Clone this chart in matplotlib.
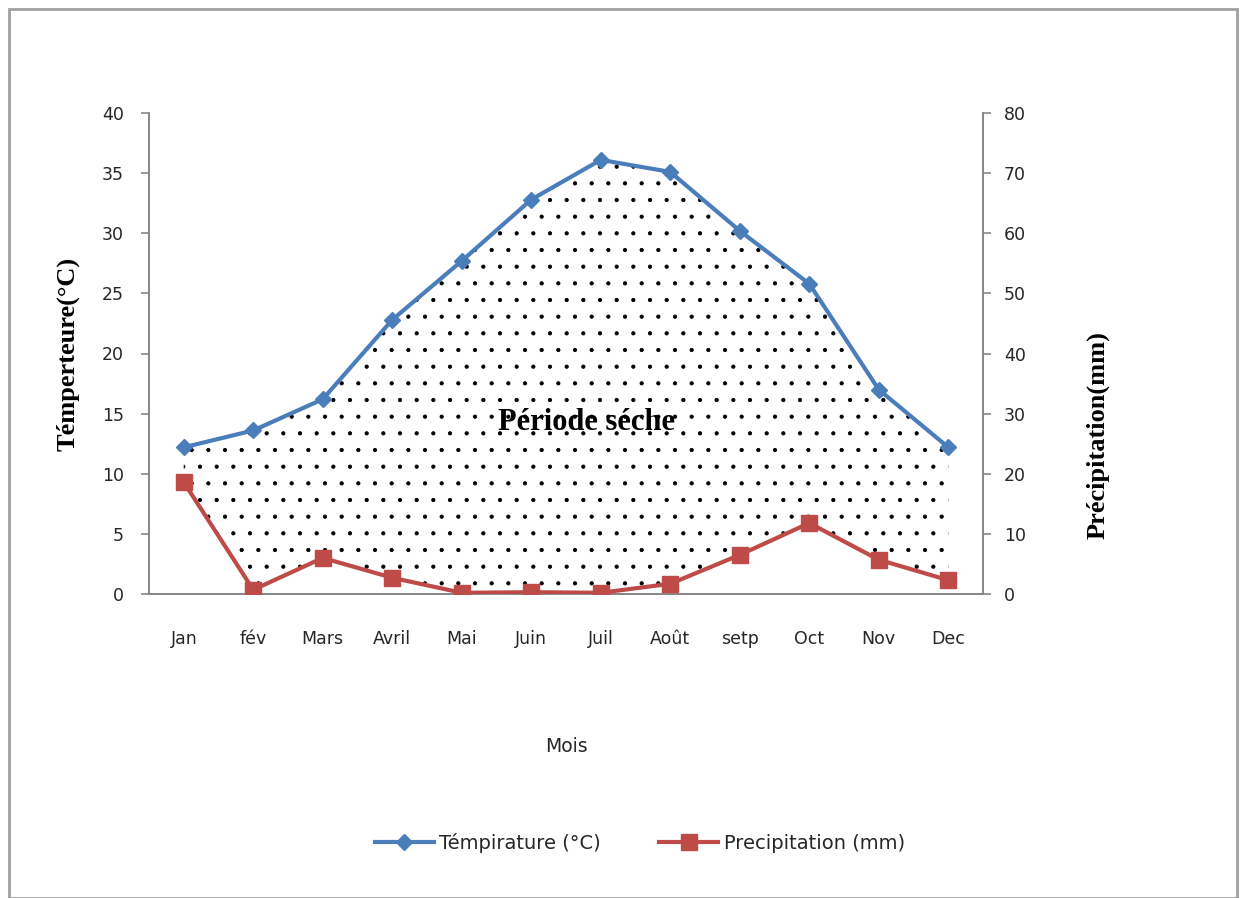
import matplotlib.pyplot as plt
import numpy as np
from matplotlib.patches import Rectangle

months = ["Jan", "fév", "Mars", "Avril", "Mai", "Juin", "Juil", "Août", "setp", "Oct", "Nov", "Dec"]
temperature = [12.2, 13.6, 16.2, 22.8, 27.7, 32.8, 36.1, 35.1, 30.2, 25.8, 17.0, 12.2]
precipitation = [18.6, 0.7, 6.0, 2.7, 0.2, 0.3, 0.2, 1.7, 6.5, 11.8, 5.7, 2.3]
temp_ticks = [0, 5, 10, 15, 20, 25, 30, 35, 40]
prec_ticks = [0, 10, 20, 30, 40, 50, 60, 70, 80]

BLUE = "#4A7EBB"
RED = "#BE4B48"
GRAY = "#868686"
TXT = "#262626"

plt.rcParams["hatch.color"] = "black"
plt.rcParams["hatch.linewidth"] = 0.6

fig = plt.figure(figsize=(12.45, 8.98), dpi=100)
fig.patches.append(Rectangle((9 / 1245, 0), (1237 - 9) / 1245, 1 - 9 / 898,
                             transform=fig.transFigure, fill=False,
                             edgecolor="#A0A0A0", linewidth=2))

ax = fig.add_axes([149 / 1245, 1 - 594 / 898, (983 - 149) / 1245, (594 - 113) / 898])
ax2 = ax.twinx()

x = np.arange(len(months))
temp = np.array(temperature)
prec = np.array(precipitation)

# dry period: temperature curve above half the precipitation
ax.fill_between(x, prec / 2, temp, facecolor="none", edgecolor="black",
                hatch=".", linewidth=0, zorder=1)

ax.plot(x, temp, color=BLUE, lw=3, marker="D", markersize=8,
        markerfacecolor=BLUE, markeredgecolor=BLUE, zorder=3,
        label="Témpirature (°C)")
ax2.plot(x, prec, color=RED, lw=3, marker="s", markersize=11,
         markerfacecolor=RED, markeredgecolor=RED, zorder=3,
         label="Precipitation (mm)")

ax.set_xlim(-0.5, len(months) - 0.5)
ax.set_ylim(0, 40)
ax2.set_ylim(0, 80)
ax.set_yticks(temp_ticks)
ax2.set_yticks(prec_ticks)
ax.set_xticks(x)
ax.set_xticklabels(months)

for a in (ax, ax2):
    a.spines["top"].set_visible(False)
    for side in ("left", "right", "bottom"):
        a.spines[side].set_color(GRAY)
        a.spines[side].set_linewidth(1.2)
    a.tick_params(axis="y", direction="out", length=6, width=1.2, color=GRAY,
                  labelsize=12.5, labelcolor=TXT)
ax.tick_params(axis="y", pad=12)
ax2.tick_params(axis="y", pad=9)
ax.tick_params(axis="x", length=0, labelsize=12.5, labelcolor=TXT, pad=26)

ax.set_ylabel("Témperteure(°C)", family="Liberation Serif", fontweight="bold",
              fontsize=19, va="center")
ax.yaxis.set_label_coords(-(149 - 68) / 834, 0.5)
ax2.set_ylabel("Précipitation(mm)", family="Liberation Serif", fontweight="bold",
               fontsize=19, rotation=90, va="center")
ax2.yaxis.set_label_coords((1098 - 149) / 834, (594 - 435) / 481)
ax.set_xlabel("Mois", fontsize=13.5, color=TXT)
ax.xaxis.set_label_coords(0.5, -(746 - 594) / 481)
ax.xaxis.label.set_va("center")

ax.text(5.8, 14.3, "Période séche", family="Liberation Serif", fontweight="bold",
        fontsize=22, ha="center", va="center", zorder=4)

h1, l1 = ax.get_legend_handles_labels()
h2, l2 = ax2.get_legend_handles_labels()
leg = fig.legend(h1 + h2, l1 + l2, loc="center", bbox_to_anchor=(640 / 1245, 1 - 843 / 898),
                 ncol=2, frameon=False, fontsize=14, handlelength=3.0,
                 columnspacing=3.0, handletextpad=0.3)
for t in leg.get_texts():
    t.set_color(TXT)

fig.savefig("out.png", dpi=100)
